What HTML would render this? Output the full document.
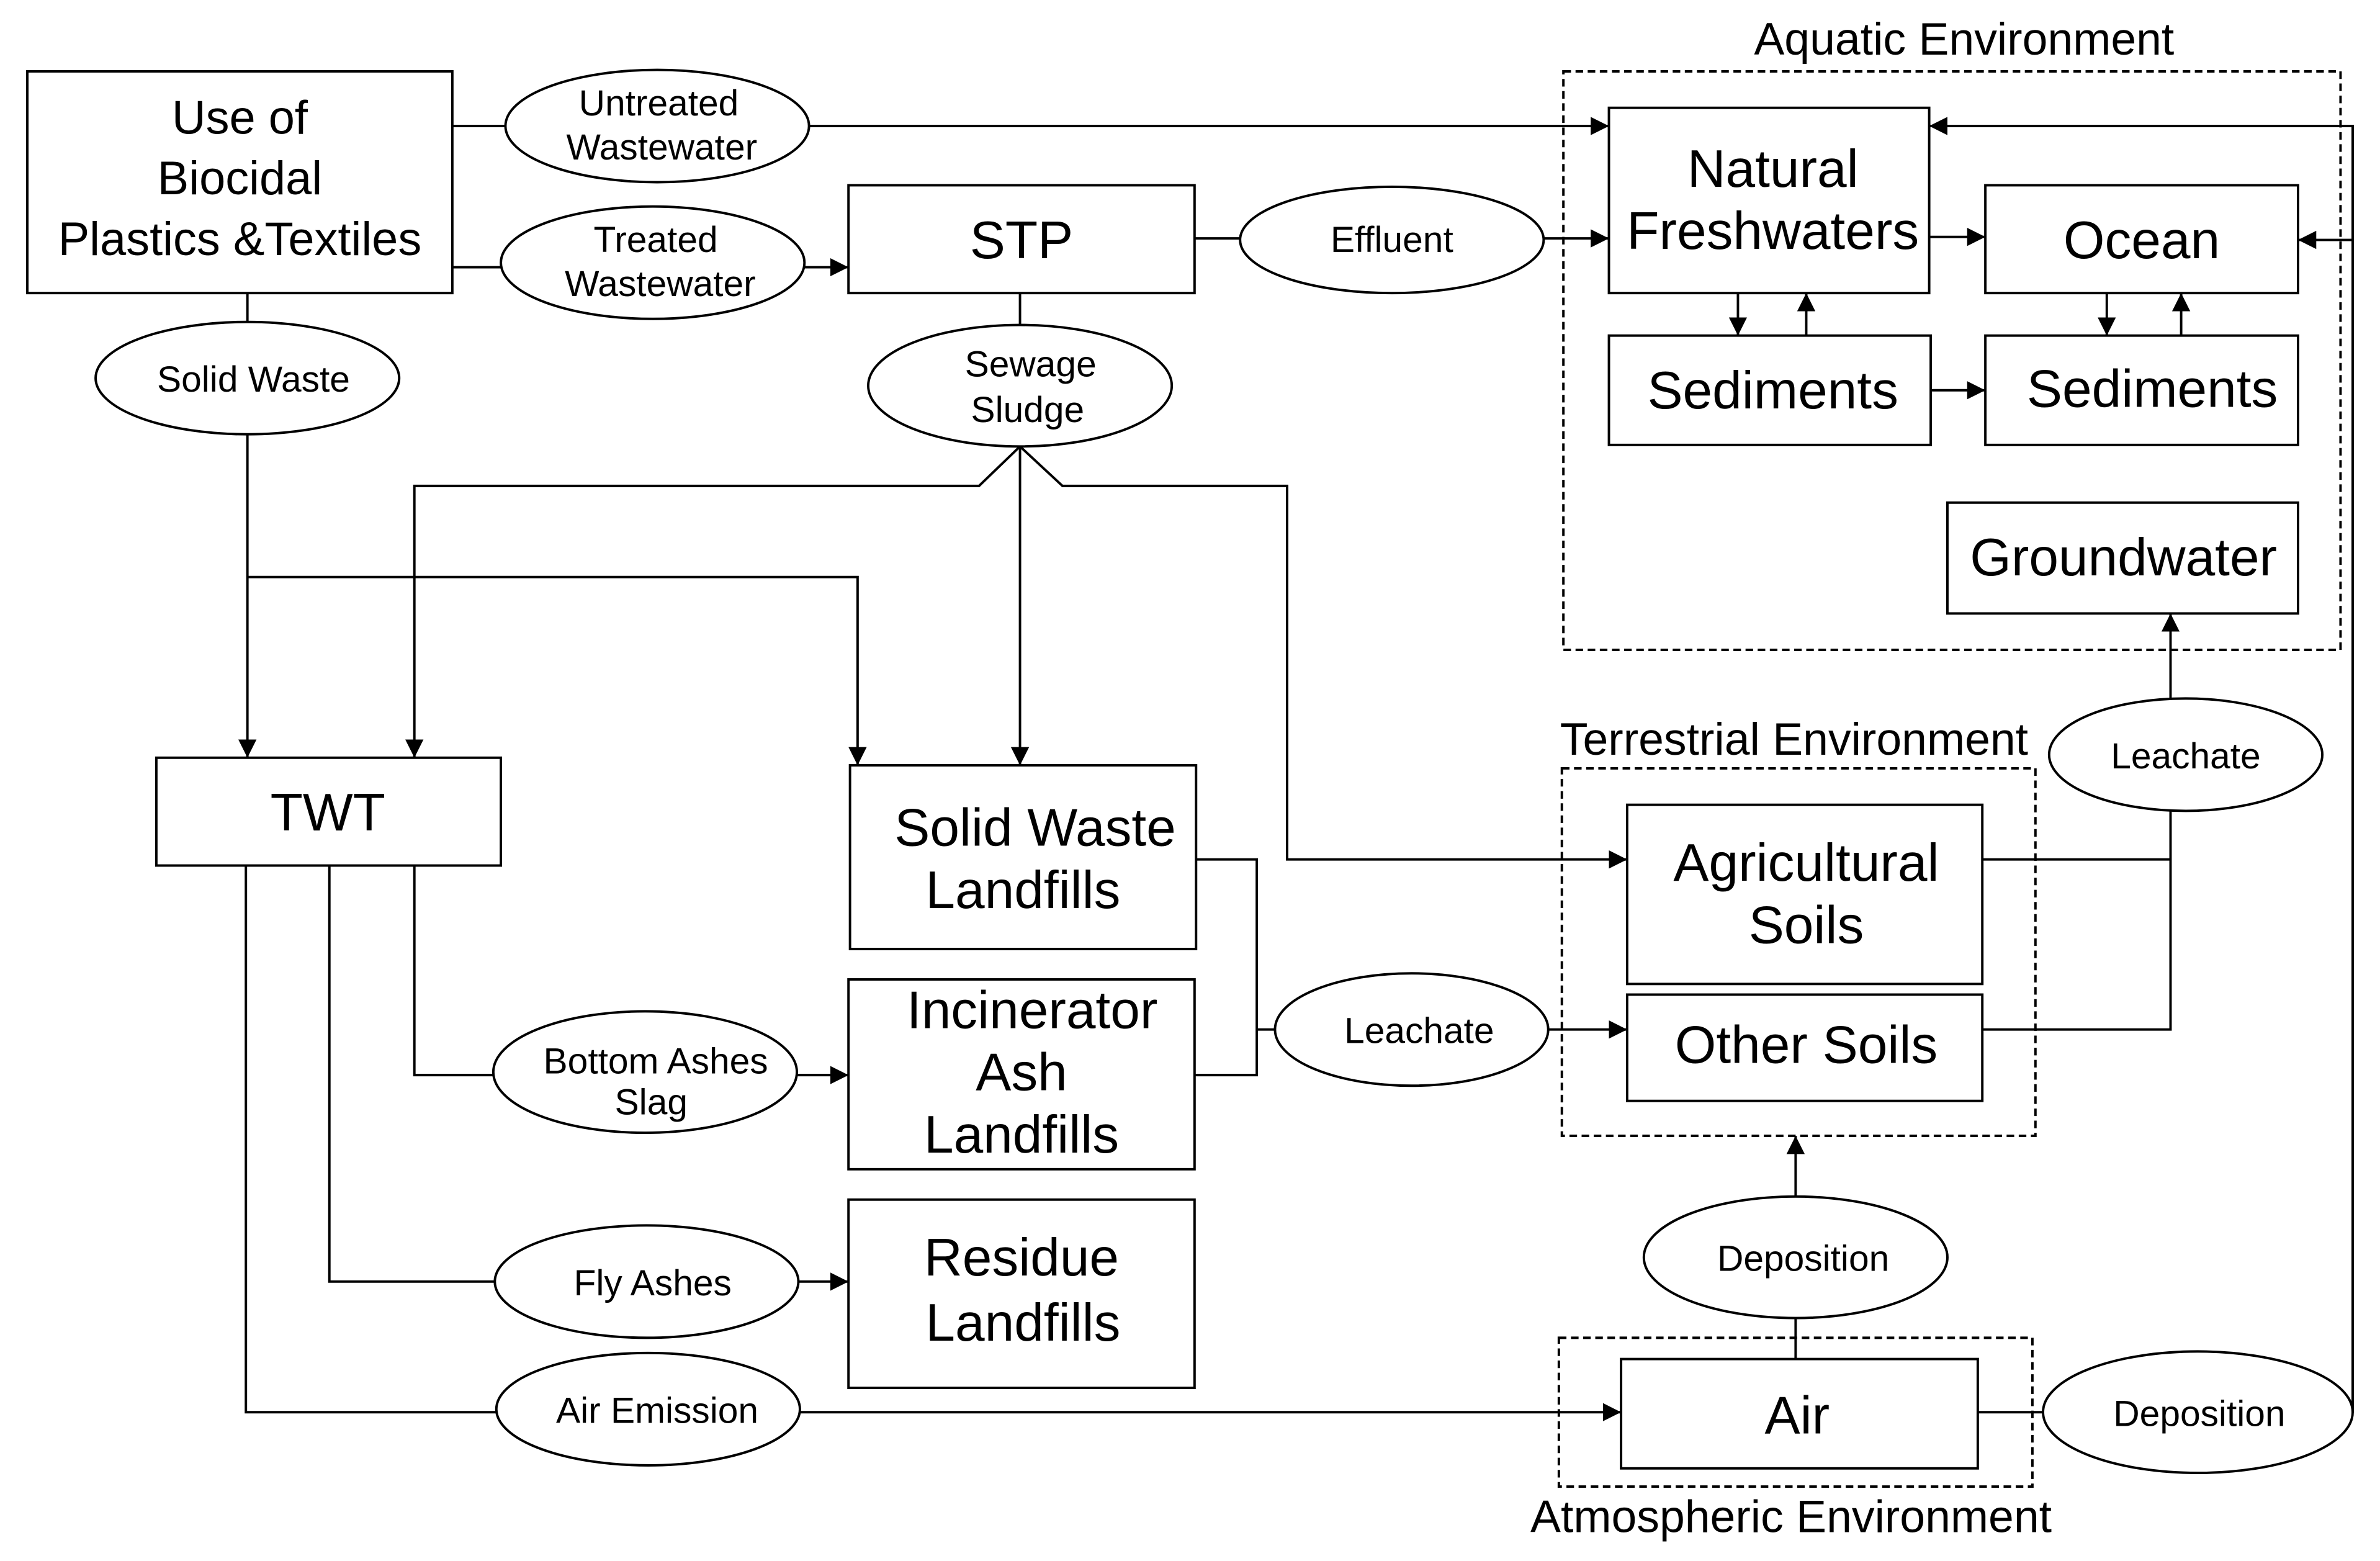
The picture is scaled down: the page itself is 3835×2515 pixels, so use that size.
<!DOCTYPE html>
<html><head><meta charset="utf-8"><style>
html,body{margin:0;padding:0;background:#fff;}
svg{display:block;}
text{font-family:"Liberation Sans",Arial,sans-serif;fill:#000;text-anchor:middle;}
</style></head><body>
<svg width="3835" height="2515" viewBox="0 0 1568 1028" preserveAspectRatio="none" xmlns="http://www.w3.org/2000/svg">
<defs>
<marker id="b" viewBox="0 0 10 10" refX="10" refY="5" markerWidth="12" markerHeight="12" orient="auto" markerUnits="userSpaceOnUse"><path d="M0,0 L10,5 L0,10 z" fill="#000"/></marker></defs>
<g fill="none" stroke="#000" stroke-width="1.6">
<rect x="1030" y="47" width="512" height="381" stroke-dasharray="5,3"/>
<rect x="1029" y="506" width="312" height="242" stroke-dasharray="5,3"/>
<rect x="1027" y="881" width="312" height="98" stroke-dasharray="5,3"/>
<rect x="18" y="47" width="280" height="146"/>
<rect x="559" y="122" width="228" height="71"/>
<rect x="1060" y="71" width="211" height="122"/>
<rect x="1308" y="122" width="206" height="71"/>
<rect x="1060" y="221" width="212" height="72"/>
<rect x="1308" y="221" width="206" height="72"/>
<rect x="1283" y="331" width="231" height="73"/>
<rect x="103" y="499" width="227" height="71"/>
<rect x="560" y="504" width="228" height="121"/>
<rect x="559" y="645" width="228" height="125"/>
<rect x="559" y="790" width="228" height="124"/>
<rect x="1072" y="530" width="234" height="118"/>
<rect x="1072" y="655" width="234" height="70"/>
<rect x="1068" y="895" width="235" height="72"/>
<ellipse cx="433" cy="83" rx="100" ry="37"/>
<ellipse cx="430" cy="173" rx="100" ry="37"/>
<ellipse cx="917" cy="158" rx="100" ry="35"/>
<ellipse cx="163" cy="249" rx="100" ry="37"/>
<ellipse cx="672" cy="254" rx="100" ry="40"/>
<ellipse cx="1440" cy="497" rx="90" ry="37"/>
<ellipse cx="930" cy="678" rx="90" ry="37"/>
<ellipse cx="425" cy="706" rx="100" ry="40"/>
<ellipse cx="426" cy="844" rx="100" ry="37"/>
<ellipse cx="427" cy="928" rx="100" ry="37"/>
<ellipse cx="1183" cy="828" rx="100" ry="40"/>
<ellipse cx="1448" cy="930" rx="102" ry="40"/>
<line x1="298" y1="83" x2="333" y2="83"/>
<line x1="533" y1="83" x2="1060" y2="83" marker-end="url(#b)"/>
<line x1="298" y1="176" x2="330" y2="176"/>
<line x1="530" y1="176" x2="559" y2="176" marker-end="url(#b)"/>
<line x1="787" y1="157" x2="817" y2="157"/>
<line x1="1017" y1="157" x2="1060" y2="157" marker-end="url(#b)"/>
<line x1="1271" y1="156" x2="1308" y2="156" marker-end="url(#b)"/>
<line x1="1145" y1="193" x2="1145" y2="221" marker-end="url(#b)"/>
<line x1="1190" y1="221" x2="1190" y2="193" marker-end="url(#b)"/>
<line x1="1388" y1="193" x2="1388" y2="221" marker-end="url(#b)"/>
<line x1="1437" y1="221" x2="1437" y2="193" marker-end="url(#b)"/>
<line x1="1272" y1="257" x2="1308" y2="257" marker-end="url(#b)"/>
<polyline points="1550,930 1550,83 1271,83" marker-end="url(#b)"/>
<line x1="1550" y1="158" x2="1514" y2="158" marker-end="url(#b)"/>
<line x1="1303" y1="930" x2="1346" y2="930"/>
<line x1="163" y1="193" x2="163" y2="212"/>
<line x1="163" y1="286" x2="163" y2="499" marker-end="url(#b)"/>
<polyline points="163,380 565,380 565,504" marker-end="url(#b)"/>
<line x1="672" y1="193" x2="672" y2="214"/>
<polyline points="672,294 645,320 273,320 273,499" marker-end="url(#b)"/>
<line x1="672" y1="294" x2="672" y2="504" marker-end="url(#b)"/>
<polyline points="672,294 700,320 848,320 848,566 1072,566" marker-end="url(#b)"/>
<polyline points="273,570 273,708 325,708"/>
<line x1="525" y1="708" x2="559" y2="708" marker-end="url(#b)"/>
<polyline points="217,570 217,844 326,844"/>
<line x1="526" y1="844" x2="559" y2="844" marker-end="url(#b)"/>
<polyline points="162,570 162,930 327,930"/>
<line x1="527" y1="930" x2="1068" y2="930" marker-end="url(#b)"/>
<polyline points="788,566 828,566 828,708 787,708"/>
<line x1="828" y1="678" x2="840" y2="678"/>
<line x1="1020" y1="678" x2="1072" y2="678" marker-end="url(#b)"/>
<polyline points="1306,566 1430,566"/>
<polyline points="1306,678 1430,678 1430,534"/>
<line x1="1430" y1="460" x2="1430" y2="404" marker-end="url(#b)"/>
<line x1="1183" y1="895" x2="1183" y2="868"/>
<line x1="1183" y1="788" x2="1183" y2="748" marker-end="url(#b)"/>
</g>
<g font-size="30">
<text x="1294" y="36">Aquatic Environment</text>
<text x="1182" y="497">Terrestrial Environment</text>
<text x="1180" y="1009">Atmospheric Environment</text>
</g>
<g font-size="31">
<text x="158" y="88">Use of</text>
<text x="158" y="128">Biocidal</text>
<text x="158" y="168">Plastics &amp;Textiles</text>
</g>
<g font-size="35">
<text x="673" y="170">STP</text>
<text x="1168" y="123">Natural</text>
<text x="1168" y="164">Freshwaters</text>
<text x="1411" y="170">Ocean</text>
<text x="1168" y="269">Sediments</text>
<text x="1418" y="268">Sediments</text>
<text x="1399" y="379">Groundwater</text>
<text x="216" y="547">TWT</text>
<text x="682" y="557">Solid Waste</text>
<text x="674" y="598">Landfills</text>
<text x="680" y="677">Incinerator</text>
<text x="673" y="718">Ash</text>
<text x="673" y="759">Landfills</text>
<text x="673" y="840">Residue</text>
<text x="674" y="883">Landfills</text>
<text x="1190" y="580">Agricultural</text>
<text x="1190" y="621">Soils</text>
<text x="1190" y="700">Other Soils</text>
<text x="1184" y="944">Air</text>
</g>
<g font-size="24">
<text x="434" y="76">Untreated</text>
<text x="436" y="105">Wastewater</text>
<text x="432" y="166">Treated</text>
<text x="435" y="195">Wastewater</text>
<text x="917" y="166">Effluent</text>
<text x="167" y="258">Solid Waste</text>
<text x="679" y="248">Sewage</text>
<text x="677" y="278">Sludge</text>
<text x="1440" y="506">Leachate</text>
<text x="935" y="687">Leachate</text>
<text x="432" y="707">Bottom Ashes</text>
<text x="429" y="734">Slag</text>
<text x="430" y="853">Fly Ashes</text>
<text x="433" y="937">Air Emission</text>
<text x="1188" y="837">Deposition</text>
<text x="1449" y="939">Deposition</text>
</g>
</svg>
</body></html>
